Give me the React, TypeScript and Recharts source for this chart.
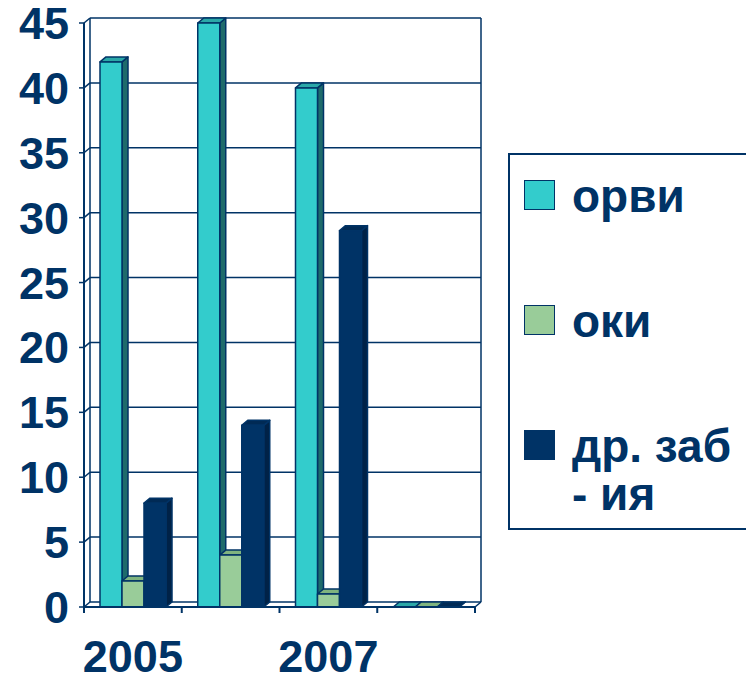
import React from "react";
import {
  BarChart,
  Bar,
  XAxis,
  YAxis,
  CartesianGrid,
  Legend,
  ReferenceArea,
} from "recharts";

const years = ["2005", "2006", "2007", ""];
const orvi = [42, 45, 40, 0];
const oki = [2, 4, 1, 0];
const other = [8, 14, 29, 0];
const yTicks = [0, 5, 10, 15, 20, 25, 30, 35, 40, 45];
const seriesKeys = ["orvi", "oki", "other"];

const data = years.map((year, i) => ({
  year,
  orvi: orvi[i],
  oki: oki[i],
  other: other[i],
}));

const NAVY = "#003366";
const FONT = "'Liberation Sans', Arial, sans-serif";
const DX = 6;
const DY = -5;
const MARGIN = { top: 23, right: 271, left: 0, bottom: 0 };
const W = 746;
const H = 678;
const Y_W = 84;
const PLOT_W = W - Y_W - MARGIN.right;

const make3D = (side: string, top: string) => (props: any) => {
  const { x, y, width, height, fill } = props;
  if (x == null || y == null) return <g />;
  const w = width;
  const h = Math.max(height, 0);
  return (
    <g stroke={NAVY} strokeWidth={1.5} strokeLinejoin="round">
      <polygon
        points={`${x + w},${y} ${x + w + DX},${y + DY} ${x + w + DX},${y + h + DY} ${x + w},${y + h}`}
        fill={side}
      />
      <polygon
        points={`${x},${y} ${x + DX},${y + DY} ${x + w + DX},${y + DY} ${x + w},${y}`}
        fill={top}
      />
      {h > 0 && <rect x={x} y={y} width={w} height={h} fill={fill} />}
    </g>
  );
};

const gridLine = (props: any) => {
  const { x1, x2, y1, key } = props;
  return (
    <g key={key} stroke={NAVY} strokeWidth={1.5}>
      <line x1={x1} y1={y1} x2={x1 + DX} y2={y1 + DY} />
      <line x1={x1 + DX} y1={y1 + DY} x2={x2 + DX} y2={y1 + DY} />
    </g>
  );
};

const Walls = (props: any) => {
  const { x, y, width, height } = props;
  return (
    <g stroke={NAVY} strokeWidth={1.5} fill="none">
      <line x1={x + DX} y1={y + DY} x2={x + DX} y2={y + height + DY} />
      <line x1={x + width + DX} y1={y + DY} x2={x + width + DX} y2={y + height + DY} />
      <line x1={x + width} y1={y + height} x2={x + width + DX} y2={y + height + DY} />
    </g>
  );
};

const XTick = (props: any) => {
  const { x, y, payload, index } = props;
  const band = PLOT_W / years.length;
  return (
    <g>
      <line x1={x - band / 2} y1={y} x2={x - band / 2} y2={y + 6} stroke={NAVY} strokeWidth={2} />
      {index === years.length - 1 && (
        <line x1={x + band / 2} y1={y} x2={x + band / 2} y2={y + 6} stroke={NAVY} strokeWidth={2} />
      )}
      {index % 2 === 0 && (
        <text
          x={x}
          y={y + 33}
          dy="0.71em"
          textAnchor="middle"
          fill={NAVY}
          fontSize={45}
          fontWeight="bold"
          fontFamily={FONT}
        >
          {payload.value}
        </text>
      )}
    </g>
  );
};

const LegendBox = (props: any) => {
  const items = [...(props.payload || [])].sort(
    (a: any, b: any) => seriesKeys.indexOf(a.dataKey) - seriesKeys.indexOf(b.dataKey)
  );
  const tops = [17, 142, 267];
  return (
    <div
      style={{
        position: "relative",
        width: 250,
        height: 377,
        border: `2px solid ${NAVY}`,
        boxSizing: "border-box",
        background: "#fff",
        fontFamily: FONT,
        fontWeight: "bold",
        fontSize: 46,
        lineHeight: "48px",
        color: NAVY,
      }}
    >
      {items.map((p: any, i: number) => (
        <div key={p.value} style={{ position: "absolute", left: 14, top: tops[i] }}>
          <div
            style={{
              position: "absolute",
              left: 0,
              top: 8,
              width: 31,
              height: 30,
              background: p.color,
              border: `1.5px solid ${NAVY}`,
              boxSizing: "border-box",
            }}
          />
          <div style={{ marginLeft: 48, whiteSpace: "pre" }}>{p.value}</div>
        </div>
      ))}
    </div>
  );
};

export default function App() {
  return (
    <div
      style={{
        position: "absolute",
        left: 0,
        top: 0,
        width: W,
        height: H,
        overflow: "hidden",
        background: "#fff",
      }}
    >
      <BarChart width={W} height={H} data={data} margin={MARGIN} barGap={0} barSize={22}>
        <CartesianGrid horizontal={gridLine} vertical={false} />
        <ReferenceArea y1={0} y2={45} fill="none" stroke="none" shape={Walls} />
        <XAxis
          dataKey="year"
          interval={0}
          height={71}
          axisLine={{ stroke: NAVY, strokeWidth: 2 }}
          tickLine={false}
          tickSize={0}
          tickMargin={0}
          tick={<XTick />}
        />
        <YAxis
          width={Y_W}
          domain={[0, 45]}
          ticks={yTicks}
          interval={0}
          axisLine={{ stroke: NAVY, strokeWidth: 2 }}
          tickLine={{ stroke: NAVY, strokeWidth: 1.5 }}
          tickSize={5}
          tickMargin={10}
          tick={{ fill: NAVY, fontSize: 45, fontWeight: "bold", fontFamily: FONT }}
        />
        <Legend
          layout="vertical"
          align="center"
          verticalAlign="middle"
          wrapperStyle={{ left: 508, top: 153, width: 250 }}
          content={<LegendBox />}
        />
        <Bar
          dataKey="orvi"
          name="орви"
          fill="#33CCCC"
          shape={make3D("#1E6B6B", "#2BA8A8")}
          isAnimationActive={false}
        />
        <Bar
          dataKey="oki"
          name="оки"
          fill="#99CC99"
          shape={make3D("#5E8F5E", "#7FB47F")}
          isAnimationActive={false}
        />
        <Bar
          dataKey="other"
          name={"др. заб\n- ия"}
          fill={NAVY}
          shape={make3D("#002247", "#002A55")}
          isAnimationActive={false}
        />
      </BarChart>
    </div>
  );
}
